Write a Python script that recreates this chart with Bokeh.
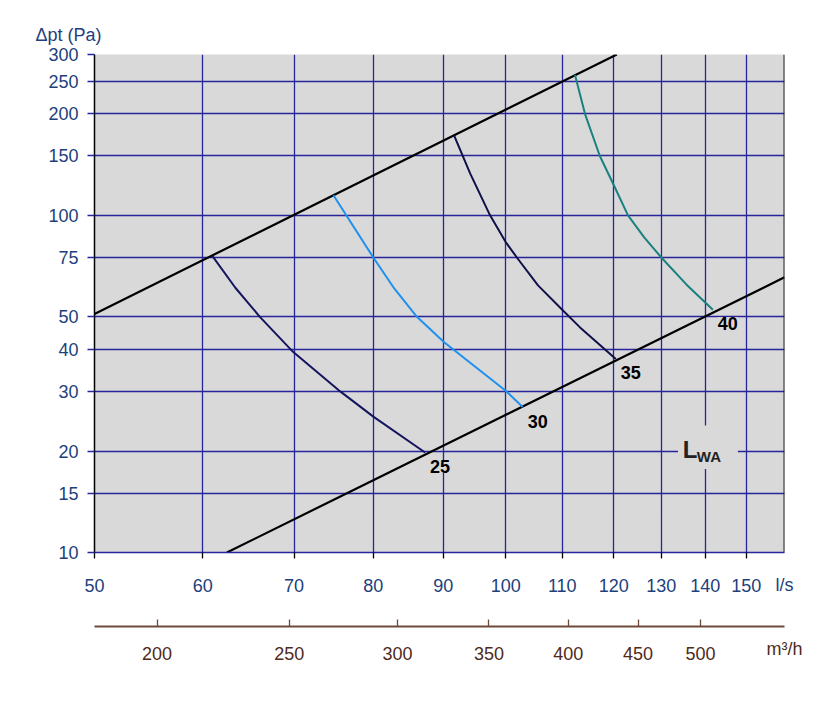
from bokeh.plotting import figure
from bokeh.models import (LogAxis, FixedTicker, CustomJSTickFormatter, Label, LabelSet,
                          ColumnDataSource, Span, Range1d, BoxAnnotation)
from bokeh.core.properties import value
from bokeh.embed import file_html
from bokeh.resources import INLINE

# ---------------- data ----------------
x_ticks = [50, 60, 70, 80, 90, 100, 110, 120, 130, 140, 150]
y_ticks = [10, 15, 20, 30, 40, 50, 75, 100, 150, 200, 250, 300]
m3h_ticks = [200, 250, 300, 350, 400, 450, 500]

upper_q = [50.0, 120.6]
upper_dp = [51.0, 300.0]
lower_q = [62.5, 160.0]
lower_dp = [10.0, 65.5]

c25_q = [61.0, 63.4, 66.1, 69.9, 75.7, 80.0, 87.3]
c25_dp = [75.7, 61.0, 49.9, 39.3, 30.0, 25.3, 19.8]
c30_q = [74.8, 80.0, 82.9, 86.1, 90.1, 100.0, 102.9]
c30_dp = [114.7, 75.0, 60.6, 50.0, 42.1, 30.2, 27.0]
c35_q = [91.7, 94.2, 97.4, 100.0, 101.9, 105.6, 110.0, 113.3, 120.4]
c35_dp = [172.0, 133.0, 100.0, 83.3, 75.0, 62.0, 52.5, 46.6, 37.5]
c40_q = [112.4, 114.3, 117.2, 120.0, 122.9, 126.3, 130.0, 135.6, 141.8]
c40_dp = [260.6, 200.0, 150.0, 122.8, 100.0, 86.0, 75.0, 62.4, 52.5]

level_names = ["25", "30", "35", "40"]
level_colors = ["#14145e", "#2090ee", "#0f0f4a", "#1a8080"]

# ---------------- style ----------------
FONT = "Liberation Sans"
GRID = "#26269a"
TXT_BLUE = "#1d3f7c"
BROWN_LINE = "#6e4a3c"
BROWN_TXT = "#4f2a1a"
BG = "#d9d9d9"

p = figure(width=831, height=724, x_axis_type="log", y_axis_type="log",
           x_range=Range1d(50, 160), y_range=Range1d(10, 300),
           output_backend="svg", toolbar_location=None,
           min_border_left=94, min_border_right=47, min_border_top=54,
           min_border_bottom=172,
           background_fill_color=BG, border_fill_color="white",
           outline_line_color=None)

# y-axis title, placed above the frame
p.title.text = "Δpt (Pa)"
p.title.align = "left"
p.title.offset = -59
p.title.text_font = FONT
p.title.text_font_size = "18px"
p.title.text_font_style = "normal"
p.title.text_color = TXT_BLUE
p.title.standoff = 19

# primary x axis (l/s)
xa = p.xaxis[0]
xa.ticker = FixedTicker(ticks=x_ticks, minor_ticks=[])
xa.formatter = CustomJSTickFormatter(code="return Math.round(tick).toString()")
xa.axis_line_color = GRID
xa.axis_line_width = 1.5
xa.major_tick_line_color = "black"
xa.major_tick_line_width = 1.3
xa.major_tick_out = 6
xa.major_tick_in = 0
xa.minor_tick_line_color = None
xa.major_label_text_font = FONT
xa.major_label_text_font_size = "18px"
xa.major_label_text_color = TXT_BLUE
xa.major_label_standoff = 20
xa.axis_label = "l/s"
xa.axis_label_align = "end"
xa.axis_label_text_font = FONT
xa.axis_label_text_font_size = "18px"
xa.axis_label_text_font_style = "normal"
xa.axis_label_text_color = TXT_BLUE
xa.axis_label_standoff = -20

# spacer axis between the two scales
sp = LogAxis(ticker=FixedTicker(ticks=[], minor_ticks=[]))
sp.axis_line_color = None
sp.major_tick_line_color = None
sp.minor_tick_line_color = None
sp.axis_label = " "
sp.axis_label_text_font_size = "18px"
sp.axis_label_standoff = 6

# y axis
ya = p.yaxis[0]
ya.ticker = FixedTicker(ticks=y_ticks, minor_ticks=[])
ya.formatter = CustomJSTickFormatter(code="return Math.round(tick).toString()")
ya.axis_line_color = "black"
ya.axis_line_width = 1.5
ya.major_tick_line_color = GRID
ya.major_tick_line_width = 1.3
ya.major_tick_out = 7
ya.major_tick_in = 0
ya.minor_tick_line_color = None
ya.major_label_text_font = FONT
ya.major_label_text_font_size = "18px"
ya.major_label_text_color = TXT_BLUE
ya.major_label_standoff = 9

# secondary axis (m3/h)
ax2 = LogAxis(ticker=FixedTicker(ticks=[v / 3.6 for v in m3h_ticks], minor_ticks=[]),
              formatter=CustomJSTickFormatter(code="return Math.round(tick*3.6).toString()"))
ax2.axis_line_color = BROWN_LINE
ax2.axis_line_width = 2
ax2.major_tick_line_color = BROWN_LINE
ax2.major_tick_line_width = 1.3
ax2.major_tick_in = 7
ax2.major_tick_out = 0
ax2.minor_tick_line_color = None
ax2.major_label_text_font = FONT
ax2.major_label_text_font_size = "18px"
ax2.major_label_text_color = BROWN_TXT
ax2.major_label_standoff = 20
ax2.axis_label = "m³/h"
ax2.axis_label_align = "end"
ax2.axis_label_text_font = FONT
ax2.axis_label_text_font_size = "18px"
ax2.axis_label_text_font_style = "normal"
ax2.axis_label_text_color = BROWN_TXT
ax2.axis_label_standoff = -24

p.below = [xa, sp, ax2]

# grid
p.xgrid.ticker = FixedTicker(ticks=x_ticks, minor_ticks=[])
p.ygrid.ticker = FixedTicker(ticks=y_ticks, minor_ticks=[])
for g in (p.xgrid, p.ygrid):
    g.grid_line_color = GRID
    g.grid_line_width = 1.3
    g.level = "image"

# right frame edge
p.add_layout(Span(location=160, dimension="height", line_color="#222222", line_width=2))

# background box behind L_WA (clears the grid)
p.add_layout(BoxAnnotation(left=133.7, right=147.9, bottom=17.7, top=23.8,
                           fill_color=BG, fill_alpha=1, line_color=None, level="underlay"))

# system lines
p.line(upper_q, upper_dp, line_color="black", line_width=2.2)
p.line(lower_q, lower_dp, line_color="black", line_width=2.2)

# sound-level curves
curves = [(c25_q, c25_dp), (c30_q, c30_dp), (c35_q, c35_dp), (c40_q, c40_dp)]
for (q, dp), col in zip(curves, level_colors):
    p.line(q, dp, line_color=col, line_width=2)

lab_src = ColumnDataSource(dict(
    x=[c[0][-1] for c in curves],
    y=[c[1][-1] for c in curves],
    text=level_names))
p.add_layout(LabelSet(x="x", y="y", text="text", source=lab_src,
                      x_offset=15, y_offset=-14,
                      text_align="center", text_baseline="middle",
                      text_font=value(FONT), text_font_size=value("18px"),
                      text_font_style="bold", text_color="black",
                      background_fill_color=BG, background_fill_alpha=1,
                      level="underlay"))

# L_WA
p.add_layout(Label(x=134.8, y=20.2, text="L", text_font=FONT, text_font_size="24px",
                   text_font_style="bold", text_color="#222222",
                   text_align="left", text_baseline="alphabetic"))
p.add_layout(Label(x=134.8, y=20.2, x_offset=14, y_offset=-6.5, text="WA", text_font=FONT,
                   text_font_size="15px", text_font_style="bold", text_color="#222222",
                   text_align="left", text_baseline="alphabetic"))

open("out.html", "w").write(file_html(p, INLINE))
